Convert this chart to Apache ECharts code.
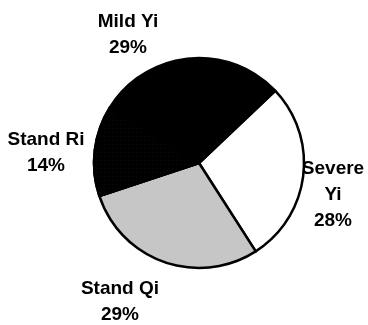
<!DOCTYPE html>
<html>
<head>
<meta charset="utf-8">
<script src="https://cdn.jsdelivr.net/npm/echarts@6/dist/echarts.min.js"></script>
<style>
  html, body { margin: 0; padding: 0; background: #fff; }
  #chart { width: 368px; height: 325px; }
</style>
</head>
<body>
<div id="chart"></div>
<script>
// Pie slices, clockwise from the upper right
const categories = ['Severe Yi', 'Stand Qi', 'Stand Ri', 'Mild Yi'];
const labelNames = ['Severe\nYi', 'Stand Qi', 'Stand Ri', 'Mild Yi'];
const shares = [28, 29, 14, 29];

const fills = ['#ffffff', '#c6c6c6', '#000000', '#000000'];
// where each slice's label block is centred
const labelSpots = [
  { x: 333, y: 195 },
  { x: 120, y: 302 },
  { x: 46, y: 153 },
  { x: 128, y: 35 }
];

const chart = echarts.init(document.getElementById('chart'), null, { renderer: 'canvas' });

chart.setOption({
  backgroundColor: '#ffffff',
  animation: false,
  series: [{
    type: 'pie',
    center: [199, 163],
    radius: 105,
    startAngle: 43.5,
    clockwise: true,
    avoidLabelOverlap: false,
    data: categories.map((name, i) => {
      const style = { color: fills[i] };
      if (i === 2) {
        // speckled screen on the dark slice
        style.decal = {
          symbol: 'rect',
          symbolSize: 0.4,
          color: 'rgba(130,130,130,0.45)',
          dashArrayX: [1, 3],
          dashArrayY: [1, 3],
          rotation: 0
        };
      }
      return { name: name, value: shares[i], itemStyle: style };
    }),
    itemStyle: { borderColor: '#000', borderWidth: 2.5 },
    label: {
      show: true,
      position: 'outside',
      formatter: p => labelNames[p.dataIndex] + '\n' + p.percent.toFixed(0) + '%',
      fontFamily: '"Liberation Sans", Arial, sans-serif',
      fontWeight: 'bold',
      fontSize: 19,
      lineHeight: 26,
      color: '#000',
      align: 'center'
    },
    labelLine: { show: false },
    labelLayout: p => ({
      x: labelSpots[p.dataIndex].x,
      y: labelSpots[p.dataIndex].y,
      align: 'center',
      verticalAlign: 'middle'
    }),
    emphasis: { disabled: true }
  }]
});
</script>
</body>
</html>
